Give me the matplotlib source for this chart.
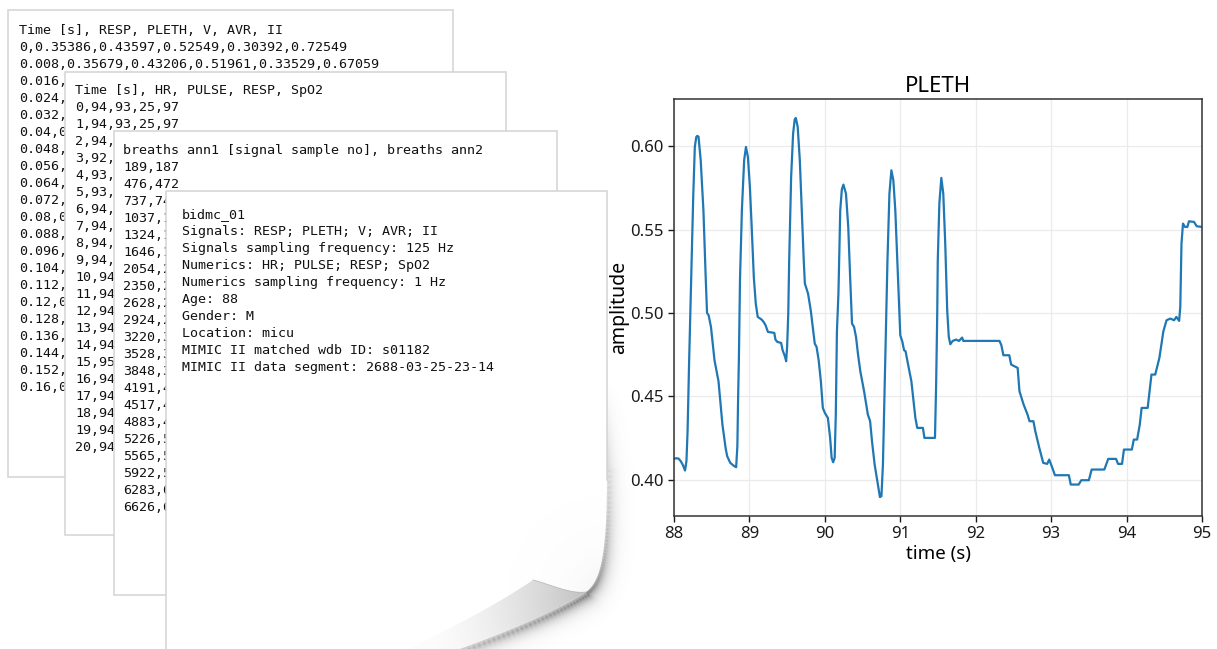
import numpy as np
import matplotlib
matplotlib.use("Agg")
import matplotlib.pyplot as plt
from matplotlib.path import Path
from matplotlib.patches import PathPatch, Rectangle

# ---- file contents shown on the stacked sheets ----
signals_header = "Time [s], RESP, PLETH, V, AVR, II"
signals_rows = ["0,0.35386,0.43597,0.52549,0.30392,0.72549",
                "0.008,0.35679,0.43206,0.51961,0.33529,0.67059",
                "0.016,", "0.024,", "0.032,", "0.04,0", "0.048,", "0.056,",
                "0.064,", "0.072,", "0.08,0", "0.088,", "0.096,", "0.104,",
                "0.112,", "0.12,0", "0.128,", "0.136,", "0.144,", "0.152,",
                "0.16,0"]

numerics_header = "Time [s], HR, PULSE, RESP, SpO2"
numerics_rows = ["0,94,93,25,97", "1,94,93,25,97", "2,94,", "3,92,", "4,93,",
                 "5,93,", "6,94,", "7,94,", "8,94,", "9,94,", "10,94,",
                 "11,94,", "12,94,", "13,94,", "14,94,", "15,95,", "16,94,",
                 "17,94,", "18,94,", "19,94,", "20,94,"]

breaths_header = "breaths ann1 [signal sample no], breaths ann2"
breaths_rows = ["189,187", "476,472", "737,74", "1037,1", "1324,1", "1646,1",
                "2054,2", "2350,2", "2628,2", "2924,2", "3220,3", "3528,3",
                "3848,3", "4191,4", "4517,4", "4883,4", "5226,5", "5565,5",
                "5922,5", "6283,6", "6626,6"]

fix_lines = ["bidmc_01",
             "Signals: RESP; PLETH; V; AVR; II",
             "Signals sampling frequency: 125 Hz",
             "Numerics: HR; PULSE; RESP; SpO2",
             "Numerics sampling frequency: 1 Hz",
             "Age: 88",
             "Gender: M",
             "Location: micu",
             "MIMIC II matched wdb ID: s01182",
             "MIMIC II data segment: 2688-03-25-23-14"]

# ---- PLETH signal, 88 s to 95 s ----
t_sec = [88.00, 88.03, 88.06, 88.09, 88.12, 88.146, 88.165, 88.18, 88.20, 88.234,
         88.255, 88.276, 88.295, 88.307, 88.325, 88.354, 88.39, 88.42, 88.438, 88.459,
         88.49, 88.537, 88.59, 88.642, 88.684, 88.705, 88.746, 88.80, 88.824, 88.84,
         88.85, 88.86, 88.875, 88.90, 88.93, 88.954, 88.98, 89.006, 89.03, 89.058,
         89.084, 89.11, 89.162, 89.188, 89.214, 89.245, 89.33, 89.345, 89.37, 89.42,
         89.44, 89.47, 89.487, 89.50, 89.515, 89.527, 89.553, 89.579, 89.60, 89.615,
         89.64, 89.668, 89.694, 89.72, 89.735, 89.777, 89.813, 89.84, 89.866, 89.89,
         89.918, 89.947, 89.973, 90.00, 90.04, 90.07, 90.09, 90.11, 90.13, 90.145,
         90.16, 90.18, 90.204, 90.225, 90.246, 90.28, 90.31, 90.335, 90.36, 90.387,
         90.413, 90.44, 90.47, 90.52, 90.57, 90.60, 90.625, 90.66, 90.703, 90.73,
         90.75, 90.77, 90.79, 90.81, 90.83, 90.856, 90.882, 90.908, 90.934, 90.96,
         90.986, 91.00, 91.028, 91.05, 91.07, 91.095, 91.147, 91.20, 91.225, 91.30,
         91.32, 91.46, 91.476, 91.49, 91.497, 91.518, 91.544, 91.57, 91.596, 91.622,
         91.643, 91.663, 91.695, 91.74, 91.778, 91.82, 91.835, 92.315, 92.34, 92.367,
         92.445, 92.47, 92.556, 92.58, 92.635, 92.687, 92.713, 92.765, 92.79, 92.843,
         92.895, 92.948, 92.974, 93.016, 93.05, 93.235, 93.26, 93.365, 93.40, 93.50,
         93.537, 93.705, 93.757, 93.86, 93.887, 93.94, 93.965, 94.07, 94.096, 94.14,
         94.175, 94.20, 94.28, 94.33, 94.38, 94.435, 94.488, 94.505, 94.53, 94.58,
         94.63, 94.66, 94.697, 94.712, 94.728, 94.748, 94.775, 94.806, 94.827, 94.894,
         94.93, 95.00]
pleth = [0.4124, 0.4128, 0.4126, 0.4110, 0.4085, 0.4054, 0.4110, 0.4290, 0.4700, 0.5316,
         0.5700, 0.5996, 0.6055, 0.6062, 0.6058, 0.5916, 0.5616, 0.5216, 0.5000, 0.4986,
         0.4916, 0.4716, 0.4590, 0.4330, 0.4190, 0.4140, 0.4100, 0.4080, 0.4074, 0.4200,
         0.4490, 0.4716, 0.5200, 0.5616, 0.5916, 0.5996, 0.5936, 0.5756, 0.5516, 0.5216,
         0.5056, 0.4976, 0.4960, 0.4946, 0.4926, 0.4886, 0.4880, 0.4840, 0.4826, 0.4820,
         0.4776, 0.4740, 0.4710, 0.4800, 0.5000, 0.5316, 0.5816, 0.6076, 0.6160, 0.6170,
         0.6116, 0.5916, 0.5616, 0.5316, 0.5176, 0.5116, 0.5016, 0.4916, 0.4816, 0.4796,
         0.4716, 0.4590, 0.4430, 0.4400, 0.4370, 0.4250, 0.4130, 0.4104, 0.4130, 0.4390,
         0.4890, 0.5116, 0.5616, 0.5740, 0.5770, 0.5716, 0.5516, 0.5216, 0.4936, 0.4916,
         0.4856, 0.4750, 0.4650, 0.4530, 0.4390, 0.4350, 0.4230, 0.4090, 0.3970, 0.3895,
         0.3900, 0.4090, 0.4490, 0.4890, 0.5316, 0.5716, 0.5856, 0.5796, 0.5616, 0.5316,
         0.5016, 0.4866, 0.4826, 0.4776, 0.4770, 0.4710, 0.4590, 0.4370, 0.4310, 0.4310,
         0.4250, 0.4250, 0.4590, 0.5000, 0.5316, 0.5656, 0.5810, 0.5716, 0.5416, 0.5016,
         0.4856, 0.4812, 0.4832, 0.4840, 0.4832, 0.4852, 0.4832, 0.4832, 0.4806, 0.4746,
         0.4746, 0.4690, 0.4670, 0.4530, 0.4450, 0.4390, 0.4350, 0.4350, 0.4290, 0.4190,
         0.4100, 0.4094, 0.4120, 0.4070, 0.4026, 0.4026, 0.3970, 0.3970, 0.3996, 0.3996,
         0.4060, 0.4060, 0.4124, 0.4124, 0.4094, 0.4094, 0.4180, 0.4180, 0.4240, 0.4240,
         0.4330, 0.4430, 0.4430, 0.4630, 0.4630, 0.4730, 0.4890, 0.4916, 0.4956, 0.4966,
         0.4956, 0.4976, 0.4952, 0.5036, 0.5416, 0.5536, 0.5516, 0.5516, 0.5550, 0.5546,
         0.5520, 0.5516]

W, H = 1217, 649
fig = plt.figure(figsize=(W / 100, H / 100), dpi=100)

# background layer in pixel units (y grows downward)
bg = fig.add_axes([0, 0, 1, 1])
bg.axis("off")

edge = "#d3d3d3"
mono = "DejaVu Sans Mono"
fs = 9.6
step = 17


def sheet(x0, y0, x1, y1, z):
    bg.add_patch(Rectangle((x0, y0), x1 - x0, y1 - y0, facecolor="white",
                           edgecolor=edge, lw=1.1, zorder=z))


def write(lines, x, y, z):
    for i, s in enumerate(lines):
        bg.text(x, y + i * step + 5, s, family=mono, fontsize=fs, color="#111111",
                ha="left", va="baseline", zorder=z)


sheet(8, 10, 453, 477, 1)
write([signals_header] + signals_rows, 19, 29, 2)
sheet(65, 72, 506, 535, 3)
write([numerics_header] + numerics_rows, 75, 89, 4)
sheet(114, 131, 557, 595, 5)
write([breaths_header] + breaths_rows, 123, 149, 6)


def bez(p0, p1, p2, p3, n=40):
    t = np.linspace(0, 1, n)[:, None]
    p0, p1, p2, p3 = map(np.asarray, (p0, p1, p2, p3))
    return (1 - t) ** 3 * p0 + 3 * (1 - t) ** 2 * t * p1 + 3 * (1 - t) * t ** 2 * p2 + t ** 3 * p3


# front sheet with the curled corner
right_curve = bez((607, 470), (607, 545), (603, 580), (586, 592))
outer_curve = bez((586, 592), (555, 612), (490, 640), (420, 662))
front = np.vstack([[(166, 662), (166, 191), (607, 191)], right_curve, outer_curve])

# soft shadow cast by the lifted corner
shadow_line = np.vstack([np.column_stack([np.full(30, 608.0), np.linspace(380, 470, 30)]),
                         right_curve + [2, 1], outer_curve + [2, 3]])
n_sh = len(shadow_line)
k = np.arange(n_sh)
peak = 30 + len(right_curve)
wts = np.where(k < peak, (k / peak) ** 1.3, 1 - 0.55 * (k - peak) / (n_sh - peak))
gx, gy = np.meshgrid(np.arange(360, 645) + 0.5, np.arange(360, 650) + 0.5)
d2 = (gx[..., None] - shadow_line[:, 0]) ** 2 + (gy[..., None] - shadow_line[:, 1]) ** 2
idx = d2.argmin(axis=2)
dist = np.sqrt(d2.min(axis=2))
alpha = 0.8 * wts[idx] * np.exp(-dist / 6.0)
shade = np.zeros(gx.shape + (4,))
shade[..., :3] = 0.36
shade[..., 3] = alpha
bg.imshow(shade, extent=(360, 645, 650, 360), interpolation="bilinear", zorder=6.5)

front_patch = PathPatch(Path(front, closed=True), facecolor="white", edgecolor="none", zorder=7)
bg.add_patch(front_patch)
bg.plot([166, 166, 607, 607], [662, 191, 191, 480], color=edge, lw=1.1, zorder=7.2)

# faint shading on the page next to the fold
fx, fy = np.meshgrid(np.arange(480, 610) + 0.5, np.arange(440, 650) + 0.5)
glow = np.zeros(fx.shape + (4,))
glow[..., :3] = 0.6
glow[..., 3] = 0.14 * np.exp(-np.hypot(fx - 607, fy - 595) / 28)
im = bg.imshow(glow, extent=(480, 610, 650, 440), interpolation="bilinear", zorder=7.1)
im.set_clip_path(front_patch)

# folded-back flap
tip = (533, 580)
flap_top = bez(tip, (552, 585), (570, 594), (586, 592))
fold_edge = bez((380, 662), (430, 640), (495, 606), tip)
flap = np.vstack([flap_top, outer_curve, fold_edge])
flap_patch = PathPatch(Path(flap, closed=True), facecolor="none", edgecolor="none", zorder=7.4)
bg.add_patch(flap_patch)
px, py = np.meshgrid(np.arange(370, 600) + 0.5, np.arange(570, 662) + 0.5)
lvl = np.clip(1 - np.hypot(px - 592, py - 598) / 170, 0, 1)
tone = np.zeros(px.shape + (3,))
tone[...] = (0.99 - 0.24 * lvl ** 1.5)[..., None]
im = bg.imshow(tone, extent=(370, 600, 662, 570), interpolation="bilinear", zorder=7.5)
im.set_clip_path(flap_patch)
bg.plot(flap_top[:, 0], flap_top[:, 1], color="#a8a8a8", lw=0.6, alpha=0.7, zorder=7.6)

write(fix_lines, 182, 213, 8)

bg.set_xlim(0, W)
bg.set_ylim(H, 0)

# ---- PLETH chart ----
sans = ["Noto Sans", "DejaVu Sans"]
plt.rcParams["font.family"] = sans
ax = fig.add_axes([674 / W, (H - 516) / H, 528 / W, 417 / H])
ax.plot(t_sec, pleth, color="#1f77b4", lw=1.6)
ax.set_xlim(88, 95)
ax.set_yticks([0.40, 0.45, 0.50, 0.55, 0.60])
ax.grid(True, color="#ebebeb", lw=0.9)
ax.set_axisbelow(True)
for sp in ax.spines.values():
    sp.set_color("#333333")
    sp.set_linewidth(1.1)
ax.tick_params(labelsize=12, colors="#1a1a1a", length=4, width=1)
ax.set_title("PLETH", fontsize=16, family=sans, pad=5)
ax.set_xlabel("time (s)", fontsize=13.5, family=sans, labelpad=2)
ax.set_ylabel("amplitude", fontsize=14, family=sans, labelpad=1)
for lab in ax.get_xticklabels() + ax.get_yticklabels():
    lab.set_family(sans)

fig.savefig("out.png", dpi=100)
